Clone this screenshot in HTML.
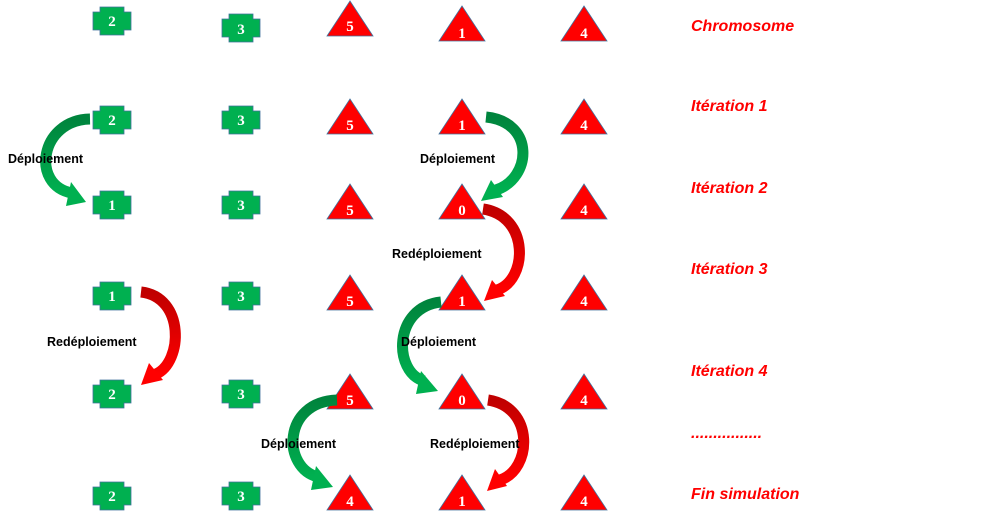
<!DOCTYPE html>
<html><head><meta charset="utf-8"><style>
body{margin:0;background:#fff;width:990px;height:525px;overflow:hidden}
svg{display:block}
.n{font-family:"Liberation Serif",serif;font-weight:bold;fill:#fff;font-size:15px;text-anchor:middle}
.l{font-family:"Liberation Sans",sans-serif;font-weight:bold;fill:#000;font-size:12.5px}
.r{font-family:"Liberation Sans",sans-serif;font-weight:bold;font-style:italic;fill:#ff0000;font-size:16px}
</style></head><body>
<svg width="990" height="525" viewBox="0 0 990 525">
<defs>
<g id="cr"><path d="M-12,-14H12V-9H19V9H12V14H-12V9H-19V-9H-12Z" fill="#00b050" stroke="#41719c" stroke-width="0.8"/></g>
<g id="tr"><path d="M0,-18L23,17H-23Z" fill="#ff0000" stroke="#41719c" stroke-width="0.8"/></g>
<linearGradient id="g" x1="0" y1="0" x2="0" y2="1"><stop offset="0" stop-color="#00843d"/><stop offset="1" stop-color="#00b050"/></linearGradient>
<linearGradient id="rd" x1="0" y1="0" x2="0" y2="1"><stop offset="0" stop-color="#c00000"/><stop offset="1" stop-color="#ff0000"/></linearGradient>
</defs>
<g>
<use href="#cr" x="112" y="21"/><use href="#cr" x="241" y="28"/>
<use href="#tr" x="350" y="19"/><use href="#tr" x="462" y="24"/><use href="#tr" x="584" y="24"/>
<use href="#cr" x="112" y="120"/><use href="#cr" x="241" y="120"/>
<use href="#tr" x="350" y="117"/><use href="#tr" x="462" y="117"/><use href="#tr" x="584" y="117"/>
<use href="#cr" x="112" y="205"/><use href="#cr" x="241" y="205"/>
<use href="#tr" x="350" y="202"/><use href="#tr" x="462" y="202"/><use href="#tr" x="584" y="202"/>
<use href="#cr" x="112" y="296"/><use href="#cr" x="241" y="296"/>
<use href="#tr" x="350" y="293"/><use href="#tr" x="462" y="293"/><use href="#tr" x="584" y="293"/>
<use href="#cr" x="112" y="394"/><use href="#cr" x="241" y="394"/>
<use href="#tr" x="350" y="392"/><use href="#tr" x="462" y="392"/><use href="#tr" x="584" y="392"/>
<use href="#cr" x="112" y="496"/><use href="#cr" x="241" y="496"/>
<use href="#tr" x="350" y="493"/><use href="#tr" x="462" y="493"/><use href="#tr" x="584" y="493"/>
</g>
<g class="n">
<text x="112" y="26">2</text><text x="241" y="34">3</text><text x="350" y="31">5</text><text x="462" y="38">1</text><text x="584" y="38">4</text>
<text x="112" y="125">2</text><text x="241" y="125">3</text><text x="350" y="130">5</text><text x="462" y="130">1</text><text x="584" y="130">4</text>
<text x="112" y="210">1</text><text x="241" y="210">3</text><text x="350" y="215">5</text><text x="462" y="215">0</text><text x="584" y="215">4</text>
<text x="112" y="301">1</text><text x="241" y="301">3</text><text x="350" y="306">5</text><text x="462" y="306">1</text><text x="584" y="306">4</text>
<text x="112" y="399">2</text><text x="241" y="399">3</text><text x="350" y="405">5</text><text x="462" y="405">0</text><text x="584" y="405">4</text>
<text x="112" y="501">2</text><text x="241" y="501">3</text><text x="350" y="506">4</text><text x="462" y="506">1</text><text x="584" y="506">4</text>
</g>
<g fill="none" stroke-width="11">
<path d="M90,119 C40,120 30,185 72,193" stroke="url(#g)"/>
<path d="M486,117 C535,122 532,178 496,190" stroke="url(#g)"/>
<path d="M483,209 C530,216 528,280 497,290" stroke="url(#rd)"/>
<path d="M141,292 C185,297 183,362 156,374" stroke="url(#rd)"/>
<path d="M441,302 C393,307 393,372 424,381" stroke="url(#g)"/>
<path d="M337,400 C282,402 282,468 318,477" stroke="url(#g)"/>
<path d="M488,400 C535,407 532,470 500,480" stroke="url(#rd)"/>
</g>
<g>
<polygon points="86,202 71,182 66,206" fill="#00b050"/>
<polygon points="481,201 491,180 503,197" fill="#00b050"/>
<polygon points="484,301 492,280 505,296" fill="#ff0000"/>
<polygon points="141,385 149,363 163,380" fill="#ff0000"/>
<polygon points="438,391 421,371 416,394" fill="#00b050"/>
<polygon points="333,487 316,466 311,490" fill="#00b050"/>
<polygon points="487,491 495,469 507,486" fill="#ff0000"/>
</g>
<g class="l">
<text x="8" y="163">Déploiement</text>
<text x="420" y="163">Déploiement</text>
<text x="392" y="258">Redéploiement</text>
<text x="47" y="346">Redéploiement</text>
<text x="401" y="346">Déploiement</text>
<text x="261" y="448">Déploiement</text>
<text x="430" y="448">Redéploiement</text>
</g>
<g class="r">
<text x="691" y="31">Chromosome</text>
<text x="691" y="111">Itération 1</text>
<text x="691" y="193">Itération 2</text>
<text x="691" y="274">Itération 3</text>
<text x="691" y="376">Itération 4</text>
<text x="691" y="438">................</text>
<text x="691" y="499">Fin simulation</text>
</g>
</svg>
</body></html>
